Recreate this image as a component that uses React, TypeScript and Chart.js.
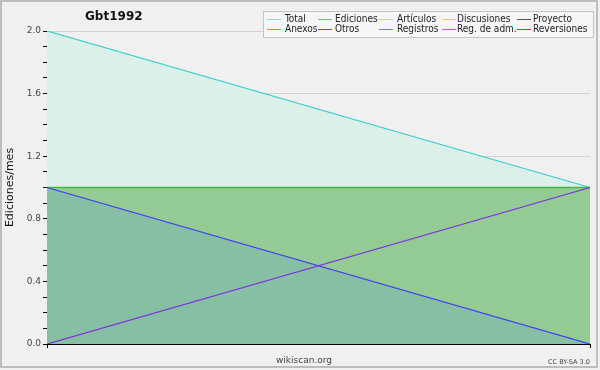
import React, { useEffect, useRef } from "react";
import { Chart, registerables } from "chart.js";

Chart.register(...registerables);

const categories = ["1", "2"];
const totalValues = [2, 1];
const edicionesValues = [1, 1];
const registrosValues = [1, 0];
const otrosValues = [0, 1];

const yMin = 0;
const yMax = 2;
const yMinorStep = 0.1;
const yMajorStep = 0.4;

const chartTitle = "Gbt1992";
const yAxisTitle = "Ediciones/mes";
const footerLeft = "wikiscan.org";
const footerRight = "CC BY-SA 3.0";

const legendNames = [
  "Total", "Ediciones", "Artículos", "Discusiones", "Proyecto",
  "Anexos", "Otros", "Registros", "Reg. de adm.", "Reversiones",
];
const legendColors = [
  "#8fdcdc", "#70c070", "#b8ea5c", "#f0cc50", "#555555",
  "#f07c38", "#7c38e6", "#6c7cf2", "#d050e4", "#e03030",
];

const isMajor = (v: number) =>
  Math.abs(v / yMajorStep - Math.round(v / yMajorStep)) < 1e-6;

const decorPlugin = {
  id: "decor",
  beforeDraw(chart: any) {
    const ctx = chart.ctx;
    ctx.save();
    ctx.fillStyle = "#f0f0f0";
    ctx.fillRect(0, 0, 600, 370);
    ctx.strokeStyle = "#bdbdbd";
    ctx.lineWidth = 2;
    ctx.strokeRect(1, 1, 596, 366);
    ctx.restore();
  },
  afterDraw(chart: any) {
    const ctx = chart.ctx;
    ctx.save();
    ctx.fillStyle = "#111";
    ctx.font = 'bold 12px "DejaVu Sans"';
    ctx.textBaseline = "middle";
    ctx.textAlign = "left";
    ctx.fillText(chartTitle, 85, 17);
    ctx.fillStyle = "#f6f6f6";
    ctx.fillRect(263.5, 11.5, 330, 26);
    ctx.strokeStyle = "#c4c4c4";
    ctx.lineWidth = 1;
    ctx.strokeRect(263.5, 11.5, 330, 26);
    const lineX = [267, 318, 379, 442, 517];
    const textX = [285, 335, 397, 457, 533];
    const rowY = [19, 29];
    ctx.font = '10px "DejaVu Sans Condensed", "DejaVu Sans"';
    for (let i = 0; i < legendNames.length; i++) {
      const col = i % 5;
      const row = Math.floor(i / 5);
      const y = rowY[row];
      ctx.strokeStyle = legendColors[i];
      ctx.lineWidth = 1;
      ctx.beginPath();
      ctx.moveTo(lineX[col], y + 0.5);
      ctx.lineTo(lineX[col] + 14, y + 0.5);
      ctx.stroke();
      ctx.fillStyle = "#222";
      ctx.fillText(legendNames[i], textX[col], y);
    }
    ctx.fillStyle = "#444";
    ctx.font = '9px "DejaVu Sans"';
    ctx.fillText(footerLeft, 276, 361);
    ctx.font = '6.5px "DejaVu Sans"';
    ctx.fillText(footerRight, 548, 362);
    ctx.restore();
  },
};

export default function App() {
  const ref = useRef<HTMLCanvasElement>(null);
  useEffect(() => {
    if (!ref.current) return;
    const chart = new Chart(ref.current, {
      type: "line",
      data: {
        labels: categories,
        datasets: [
          {
            label: "Total",
            data: totalValues,
            borderColor: "#3ccfcf",
            backgroundColor: "#dbf0e9",
            fill: "origin",
            borderWidth: 1.3,
            pointRadius: 0,
            order: 4,
          },
          {
            label: "Ediciones",
            data: edicionesValues,
            borderColor: "#44b844",
            backgroundColor: "#94cb94",
            fill: "origin",
            borderWidth: 1.3,
            pointRadius: 0,
            order: 3,
          },
          {
            label: "Registros",
            data: registrosValues,
            borderColor: "#3c3cf4",
            backgroundColor: "#87bfa4",
            fill: "origin",
            borderWidth: 1.3,
            pointRadius: 0,
            order: 2,
          },
          {
            label: "Otros",
            data: otrosValues,
            borderColor: "#7a30e0",
            backgroundColor: "transparent",
            fill: false,
            borderWidth: 1.3,
            pointRadius: 0,
            order: 1,
          },
        ],
      },
      options: {
        responsive: false,
        animation: false,
        devicePixelRatio: 1,
        layout: { padding: { top: 31, right: 10, left: 0, bottom: 0 } },
        plugins: {
          legend: { display: false },
          tooltip: { enabled: false },
          title: { display: false },
        },
        scales: {
          x: {
            type: "category",
            offset: false,
            ticks: { display: false },
            grid: {
              drawOnChartArea: false,
              drawTicks: true,
              tickLength: 4,
              tickColor: "#000",
            },
            border: { color: "#000", width: 1 },
            afterFit: (s: any) => {
              s.height = 26;
            },
          },
          y: {
            min: yMin,
            max: yMax,
            ticks: {
              stepSize: yMinorStep,
              autoSkip: false,
              padding: 2,
              color: "#444",
              font: { family: "DejaVu Sans", size: 9 },
              callback: (v: any) => (isMajor(Number(v)) ? Number(v).toFixed(1) : ""),
            },
            grid: {
              color: (c: any) =>
                c.tick && isMajor(c.tick.value) && c.tick.value !== 0 ? "#d2d2d2" : "rgba(0,0,0,0)",
              tickColor: "#000",
              tickLength: 4,
            },
            border: { color: "#000", width: 1 },
            title: {
              display: true,
              text: yAxisTitle,
              color: "#111",
              font: { family: "DejaVu Sans", size: 11 },
              padding: { top: 4, bottom: 0 },
            },
            afterFit: (s: any) => {
              s.width = 47;
            },
          },
        },
      },
      plugins: [decorPlugin],
    });
    return () => chart.destroy();
  }, []);
  return (
    <div style={{ position: "absolute", left: 0, top: 0, width: 600, height: 370 }}>
      <canvas ref={ref} width={600} height={370} style={{ display: "block" }} />
    </div>
  );
}
